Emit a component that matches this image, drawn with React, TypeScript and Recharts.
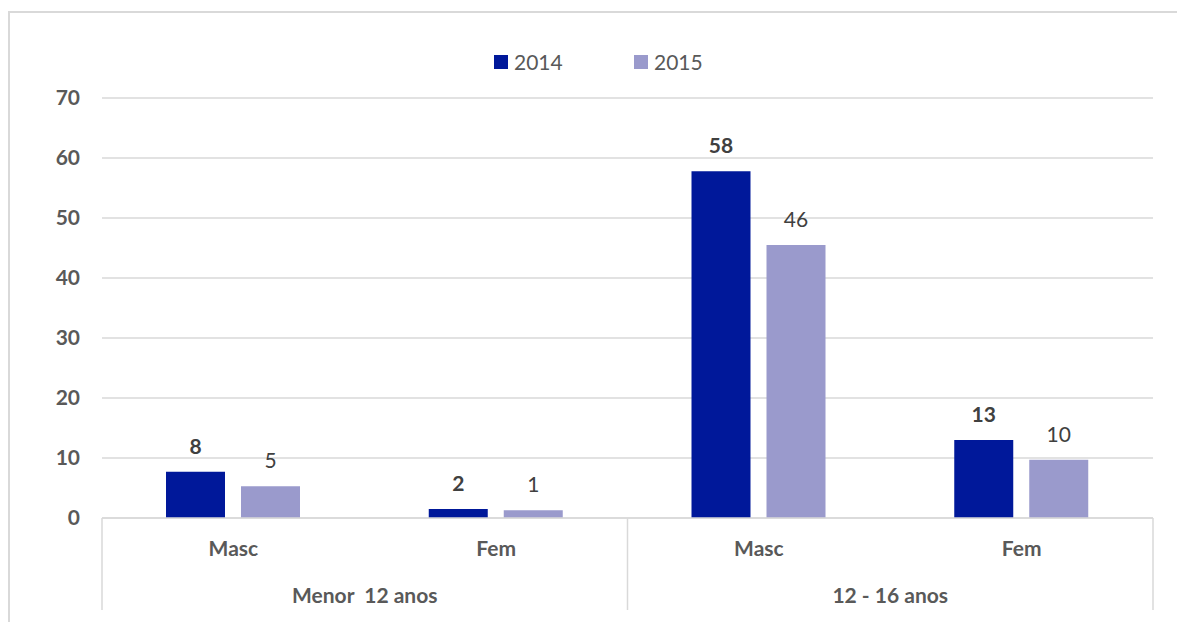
import React from 'react';
import { BarChart, Bar, XAxis, YAxis, CartesianGrid, Legend, LabelList } from 'recharts';

const categories = ['Masc', 'Fem', 'Masc', 'Fem'];
const groups = ['Menor  12 anos', 'Menor  12 anos', '12 - 16 anos', '12 - 16 anos'];
const values2014 = [7.7, 1.5, 57.8, 13.0];
const values2015 = [5.3, 1.3, 45.5, 9.7];
const yTicks = [0, 10, 20, 30, 40, 50, 60, 70];

const WIDTH = 1177;
const HEIGHT = 622;
const MARGIN = { top: 98, right: 24, left: 0, bottom: 0 };
const Y_AXIS_W = 102;
const BAND = (WIDTH - MARGIN.right - Y_AXIS_W) / categories.length;

const FONT = 'Lato, "Open Sans", sans-serif';
const GRID = '#d9d9d9';
const TEXT = '#595959';
const LABEL = '#404040';
const C2014 = '#00189a';
const C2015 = '#9a9acc';

const data = categories.map((sex, i) => ({
  sex,
  group: groups[i],
  y2014: values2014[i],
  y2015: values2015[i],
}));

function CategoryTick({ x, y, payload, index }: any) {
  const last = index === categories.length - 1;
  return (
    <g>
      <text x={x} y={y + 38} textAnchor="middle" fill={TEXT} fontFamily={FONT} fontSize={21} fontWeight={700}>
        {payload.value}
      </text>
      {index % 2 === 0 && (
        <>
          <line x1={x - BAND / 2} x2={x - BAND / 2} y1={y} y2={y + 92} stroke={GRID} strokeWidth={1.5} />
          <text
            x={x + BAND / 2}
            y={y + 85}
            textAnchor="middle"
            fill={TEXT}
            fontFamily={FONT}
            fontSize={21}
            fontWeight={700}
            style={{ whiteSpace: 'pre' }}
          >
            {groups[index]}
          </text>
        </>
      )}
      {last && <line x1={x + BAND / 2} x2={x + BAND / 2} y1={y} y2={y + 92} stroke={GRID} strokeWidth={1.5} />}
    </g>
  );
}

function LegendContent({ payload }: any) {
  return (
    <div style={{ display: 'flex', paddingLeft: 494, height: 28, alignItems: 'center' }}>
      {(payload || []).map((entry: any) => (
        <div key={entry.value} style={{ display: 'flex', alignItems: 'center', width: 140 }}>
          <span style={{ width: 14, height: 14, background: entry.color, display: 'inline-block', marginRight: 6 }} />
          <span style={{ fontFamily: FONT, fontSize: 21, color: TEXT, lineHeight: '28px' }}>{entry.value}</span>
        </div>
      ))}
    </div>
  );
}

const fmt = (v: any) => Math.round(Number(v));

export default function App() {
  return (
    <div style={{ position: 'absolute', left: 0, top: 0, width: WIDTH, height: HEIGHT, overflow: 'hidden', background: '#fff' }}>
      <div
        style={{
          position: 'absolute',
          left: 8,
          top: 11,
          width: WIDTH,
          height: HEIGHT,
          borderTop: `2px solid ${GRID}`,
          borderLeft: `2px solid ${GRID}`,
        }}
      />
      <div style={{ position: 'absolute', left: 0, top: 0 }}>
        <BarChart width={WIDTH} height={HEIGHT} data={data} margin={MARGIN} barSize={59} barGap={16}>
          <CartesianGrid horizontal vertical={false} stroke={GRID} strokeWidth={1.5} />
          <XAxis
            dataKey="sex"
            height={HEIGHT - 518}
            axisLine={{ stroke: GRID, strokeWidth: 1.5 }}
            tickLine={false}
            tickSize={0}
            tickMargin={0}
            interval={0}
            tick={<CategoryTick />}
          />
          <YAxis
            width={Y_AXIS_W}
            domain={[0, 70]}
            ticks={yTicks}
            axisLine={false}
            tickLine={false}
            tickMargin={16}
            tick={{ fill: TEXT, fontSize: 21, fontWeight: 700, fontFamily: FONT }}
          />
          <Legend
            verticalAlign="middle"
            layout="horizontal"
            wrapperStyle={{ top: 48, left: 0, width: WIDTH }}
            content={<LegendContent />}
          />
          <Bar dataKey="y2014" name="2014" fill={C2014} isAnimationActive={false}>
            <LabelList
              dataKey="y2014"
              position="top"
              offset={18}
              formatter={fmt}
              style={{ fill: LABEL, fontSize: 21, fontWeight: 700, fontFamily: FONT }}
            />
          </Bar>
          <Bar dataKey="y2015" name="2015" fill={C2015} isAnimationActive={false}>
            <LabelList
              dataKey="y2015"
              position="top"
              offset={18}
              formatter={fmt}
              style={{ fill: LABEL, fontSize: 21, fontFamily: FONT }}
            />
          </Bar>
        </BarChart>
      </div>
    </div>
  );
}
